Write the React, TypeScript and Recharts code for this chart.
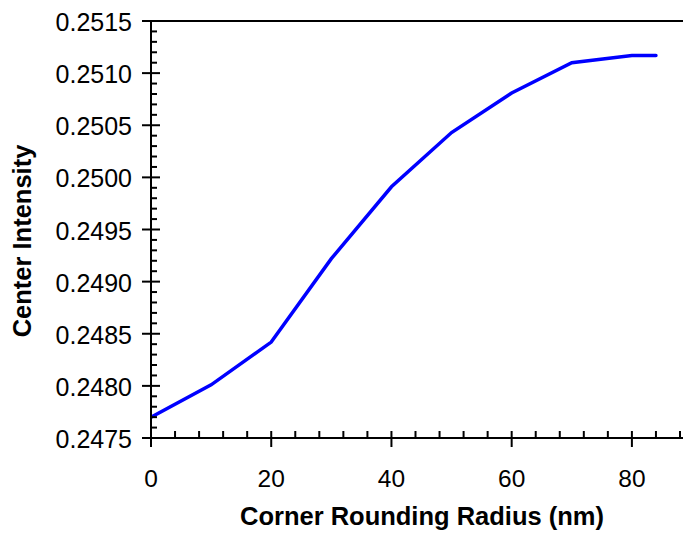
import { LineChart, Line, XAxis, YAxis, ReferenceLine } from "recharts";

const radius = [0, 10, 20, 30, 40, 50, 60, 70, 80, 84];
const intensity = [0.2477, 0.24801, 0.24842, 0.24922, 0.24991, 0.25043, 0.25081, 0.2511, 0.25117, 0.25117];

const xMajorLabels = ["0", "20", "40", "60", "80"];
const yMajorLabels = ["0.2475", "0.2480", "0.2485", "0.2490", "0.2495", "0.2500", "0.2505", "0.2510", "0.2515"];

const data = radius.map((r, i) => ({ r, v: intensity[i] }));

// minor ticks every 4 nm on x, every 0.0001 on y
const xTicks: number[] = [];
for (let i = 0; i <= 22; i++) xTicks.push(i * 4);
const yTicks: number[] = [];
for (let i = 0; i <= 40; i++) yTicks.push(Number((0.2475 + i * 0.0001).toFixed(4)));

const FONT = '"Liberation Sans", Arial, sans-serif';

function XTick(props: any) {
  const { x, y, payload } = props;
  const label = String(payload.value);
  const major = xMajorLabels.includes(label);
  return (
    <g>
      <line x1={x} x2={x} y1={y - 7} y2={major ? y + 9 : y} stroke="#000" strokeWidth={2} />
      {major && (
        <text x={x} y={y + 48.5} textAnchor="middle" fontSize={24.5} fontFamily={FONT} fill="#000">
          {label}
        </text>
      )}
    </g>
  );
}

function YTick(props: any) {
  const { x, y, payload } = props;
  const label = Number(payload.value).toFixed(4);
  const major = yMajorLabels.includes(label);
  return (
    <g>
      <line x1={major ? x - 9 : x} x2={major ? x + 9 : x + 6} y1={y} y2={y} stroke="#000" strokeWidth={2} />
      {major && (
        <text x={x - 19} y={y + 10} textAnchor="end" fontSize={25} fontFamily={FONT} fill="#000">
          {label}
        </text>
      )}
    </g>
  );
}

export default function App() {
  return (
    <div style={{ position: "absolute", left: 0, top: 0, background: "#fff" }}>
      <LineChart width={683} height={535} data={data} margin={{ top: 21, right: 0, left: 0, bottom: 67 }}>
        <XAxis
          dataKey="r"
          type="number"
          domain={[0, 88.5]}
          ticks={xTicks}
          interval={0}
          height={30}
          tickSize={0}
          tickMargin={0}
          tickLine={false}
          axisLine={{ stroke: "#000", strokeWidth: 2 }}
          tick={<XTick />}
          allowDataOverflow
          label={{
            content: () => (
              <text x={422} y={525} textAnchor="middle" fontSize={25.5} fontWeight="bold" fontFamily={FONT} fill="#000">
                Corner Rounding Radius (nm)
              </text>
            ),
          }}
        />
        <YAxis
          type="number"
          domain={[0.2475, 0.2515]}
          ticks={yTicks}
          interval={0}
          width={151}
          tickSize={0}
          tickMargin={0}
          tickLine={false}
          axisLine={{ stroke: "#000", strokeWidth: 2 }}
          tick={<YTick />}
          allowDataOverflow
          label={{
            content: () => (
              <text
                x={22}
                y={241}
                transform="rotate(-90, 22, 241)"
                textAnchor="middle"
                dominantBaseline="central"
                fontSize={25.5}
                fontWeight="bold"
                fontFamily={FONT}
                fill="#000"
              >
                Center Intensity
              </text>
            ),
          }}
        />
        <ReferenceLine y={0.2515} stroke="#000" strokeWidth={2} />
        <Line
          type="linear"
          dataKey="v"
          stroke="#0000ff"
          strokeWidth={3.5}
          dot={false}
          strokeLinecap="round"
          isAnimationActive={false}
        />
      </LineChart>
    </div>
  );
}
